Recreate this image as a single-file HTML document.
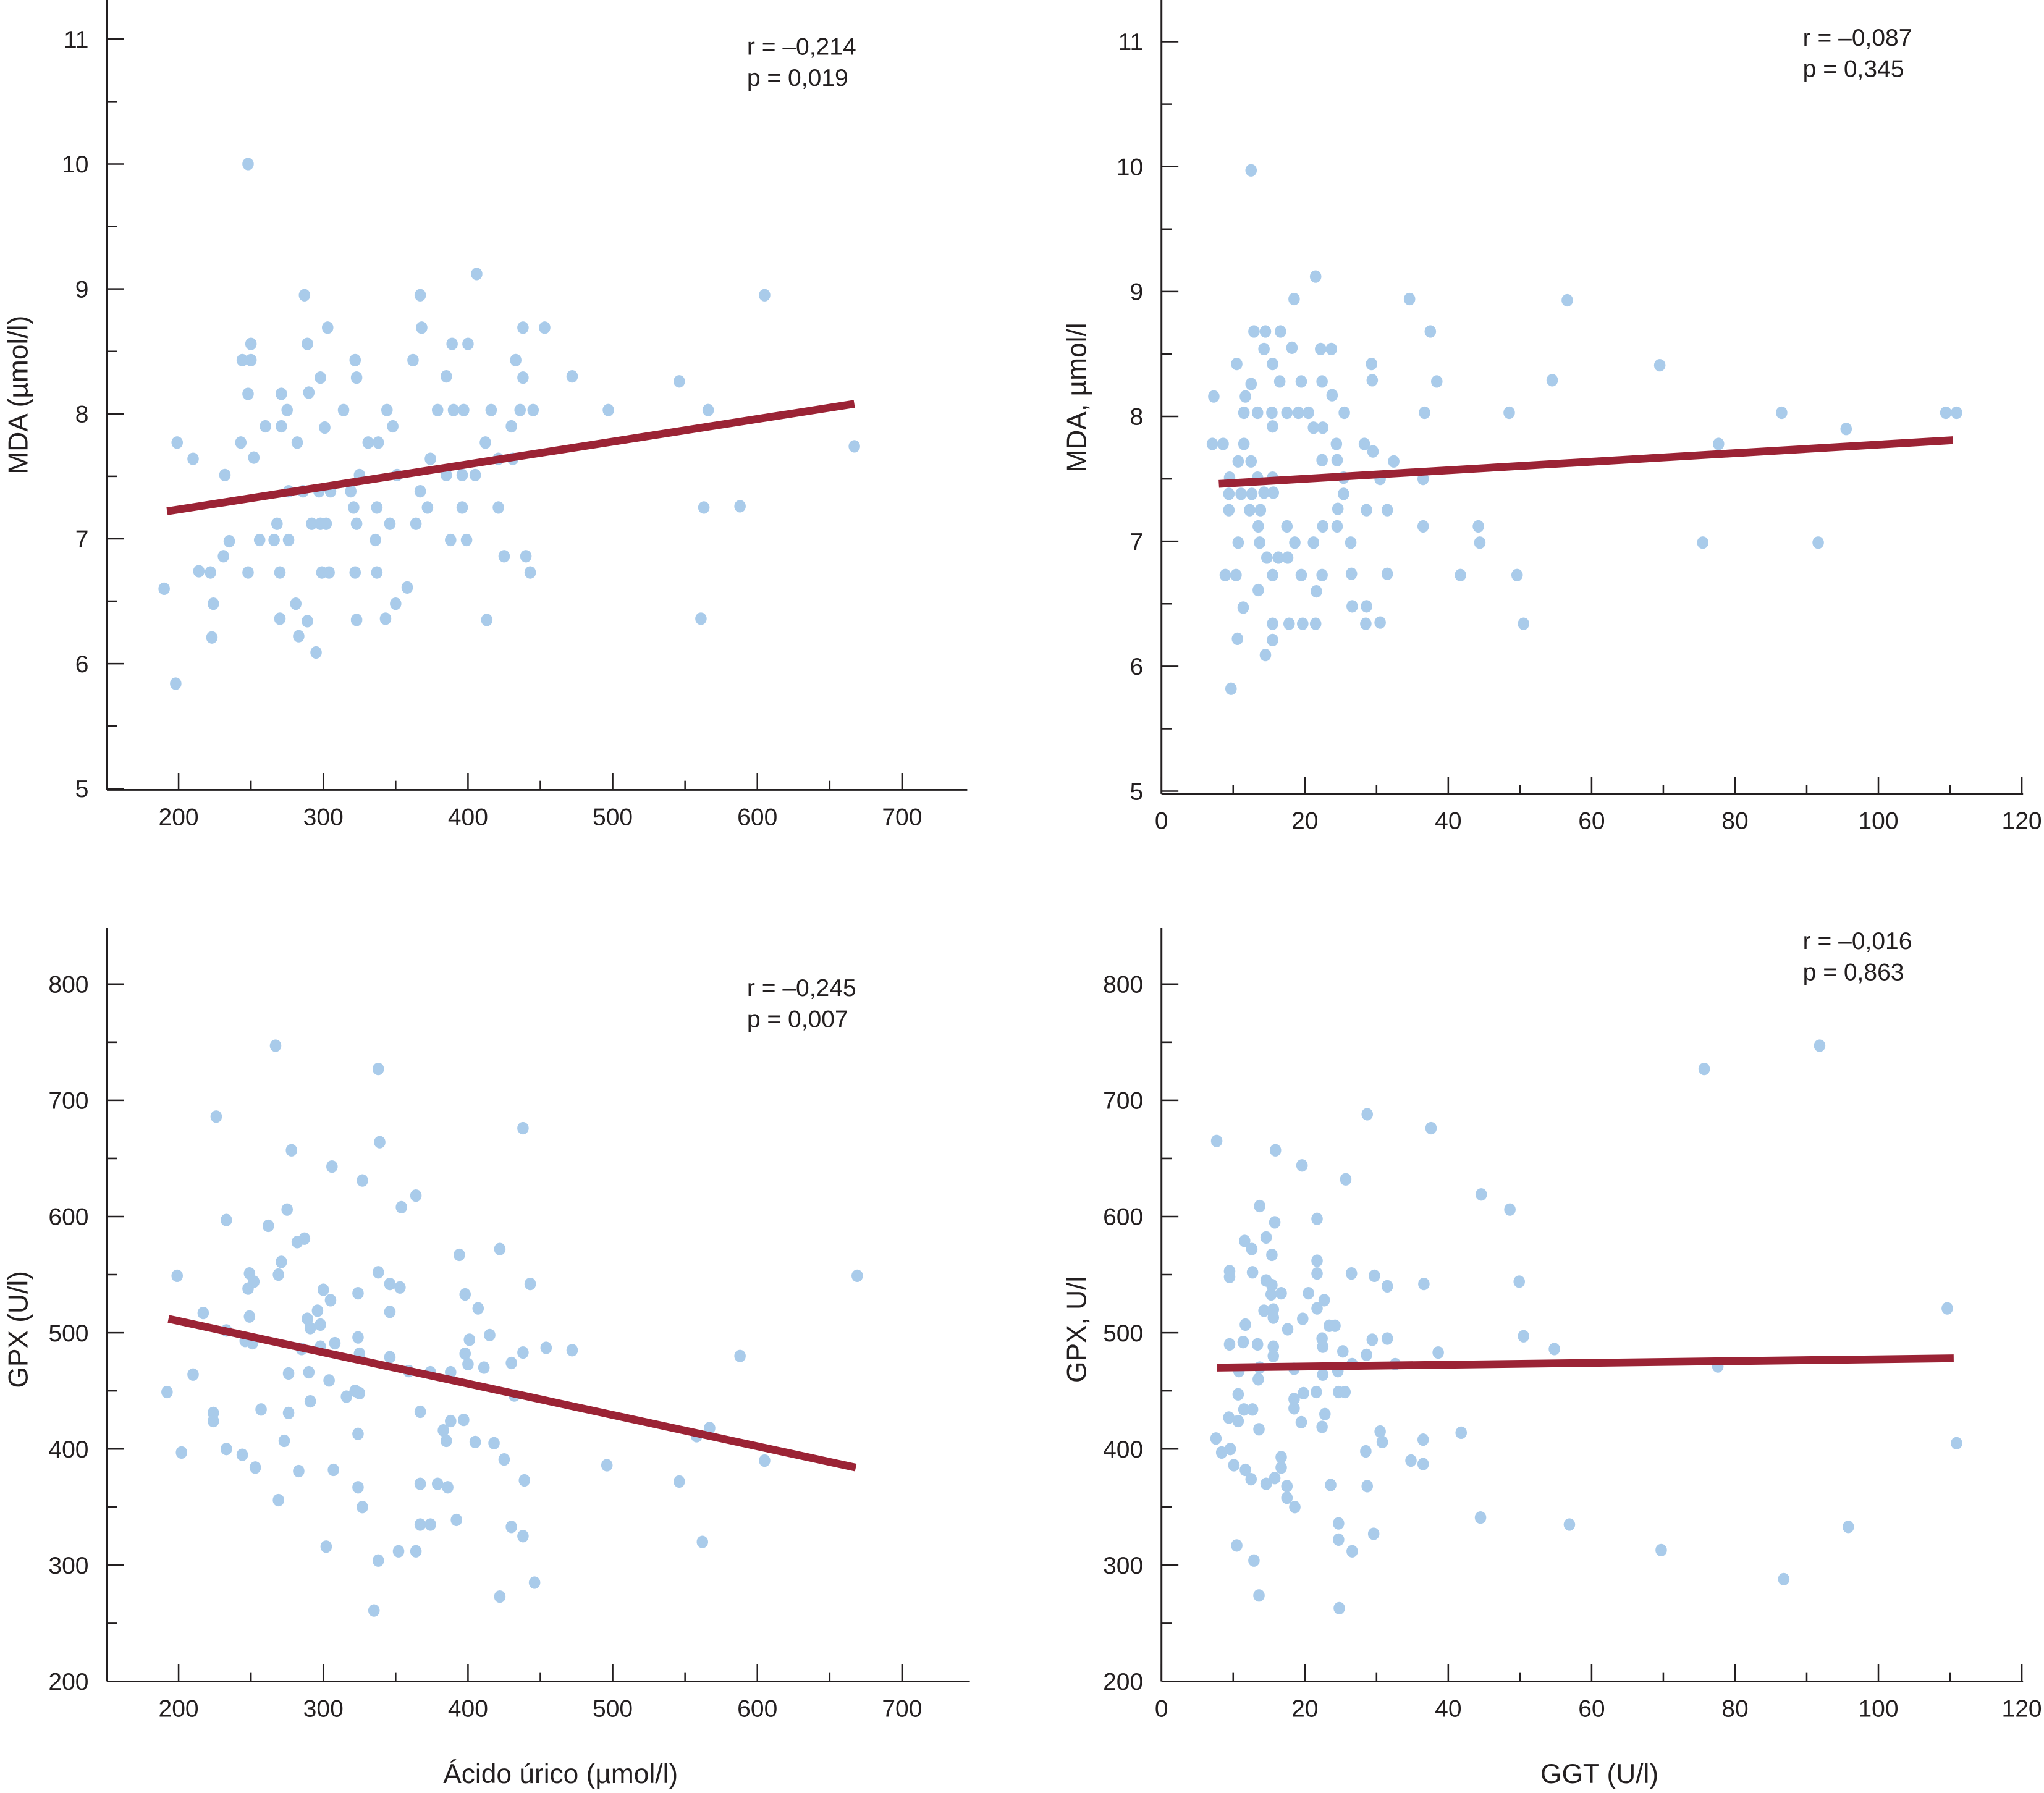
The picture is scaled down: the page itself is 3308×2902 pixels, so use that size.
<!DOCTYPE html>
<html><head><meta charset="utf-8">
<style>
html,body{margin:0;padding:0;background:#fff;}
svg{display:block;}
text{font-family:"Liberation Sans",Arial,sans-serif;fill:#231f20;}
</style></head>
<body>
<svg id="chart" width="3308" height="2902" viewBox="0 0 1568 1375.6" xmlns="http://www.w3.org/2000/svg"></svg>
<script>
// ---- Panel A: MDA vs Acido urico ----
const aX = [190,199,198,210,214,222,224,223,232,231,235,243,244,248,248,248,250,250,252,256,260,266,268,270,270,271,271,275,276,276,281,282,283,286,287,289,289,290,292,295,297,298,298,299,302,301,303,304,305,314,319,321,322,323,322,323,323,325,331,336,337,338,337,343,344,346,348,350,351,358,362,364,367,367,368,372,374,379,385,385,388,389,390,396,396,397,399,400,405,406,412,413,416,421,421,425,430,431,433,436,438,438,440,443,445,453,472,497,546,561,563,566,588,605,667];
const aY = [6.6,7.77,5.84,7.64,6.74,6.73,6.48,6.21,7.51,6.86,6.98,7.77,8.43,10.0,8.16,6.73,8.56,8.43,7.65,6.99,7.9,6.99,7.12,6.73,6.36,7.9,8.16,8.03,6.99,7.38,6.48,7.77,6.22,7.38,8.95,8.56,6.34,8.17,7.12,6.09,7.38,7.12,8.29,6.73,7.12,7.89,8.69,6.73,7.38,8.03,7.38,7.25,8.43,7.12,6.73,8.29,6.35,7.51,7.77,6.99,7.25,7.77,6.73,6.36,8.03,7.12,7.9,6.48,7.51,6.61,8.43,7.12,8.95,7.38,8.69,7.25,7.64,8.03,7.51,8.3,6.99,8.56,8.03,7.51,7.25,8.03,6.99,8.56,7.51,9.12,7.77,6.35,8.03,7.64,7.25,6.86,7.9,7.64,8.43,8.03,8.69,8.29,6.86,6.73,8.03,8.69,8.3,8.03,8.26,6.36,7.25,8.03,7.26,8.95,7.74];
const aFit = [[192,7.22],[667,8.08]];
// ---- Panel B: MDA vs GGT ----
const bX = [7.3,7.1,8.6,9.5,9.4,9.4,8.9,10.4,9.7,10.5,10.7,11.1,10.7,10.6,11.4,11.5,11.5,11.7,12.5,12.5,12.5,12.6,12.3,12.9,13.4,13.4,13.5,13.7,13.8,13.5,14.5,14.3,14.3,14.7,14.5,15.4,15.5,15.5,15.6,15.5,15.5,15.5,15.5,16.3,16.5,16.6,17.5,17.5,17.6,17.8,18.2,18.5,18.6,19.1,19.5,19.5,19.7,20.5,21.2,21.2,21.5,21.5,21.6,22.2,22.4,22.4,22.5,22.5,22.4,23.7,23.8,24.4,24.5,24.6,24.5,25.4,25.4,25.5,26.4,26.5,26.6,28.3,28.6,28.5,28.6,29.3,29.4,29.5,30.5,30.5,31.5,31.5,32.4,34.6,36.5,36.5,36.7,37.5,38.4,41.7,44.2,44.4,48.5,49.6,50.5,54.5,56.6,69.5,75.5,77.7,86.5,91.6,95.5,109.4,110.9];
const bY = [8.16,7.78,7.78,7.51,7.38,7.25,6.73,6.73,5.82,8.42,7.64,7.38,6.99,6.22,6.47,8.03,7.78,8.16,9.97,8.26,7.64,7.38,7.25,8.68,8.03,7.51,7.12,6.99,7.25,6.61,8.68,8.54,7.39,6.87,6.09,8.03,7.92,7.51,7.39,8.42,6.73,6.34,6.21,6.87,8.28,8.68,8.03,7.12,6.87,6.34,8.55,8.94,6.99,8.03,8.28,6.73,6.34,8.03,7.91,6.99,9.12,6.34,6.6,8.54,8.28,7.65,7.91,7.12,6.73,8.54,8.17,7.78,7.65,7.26,7.12,7.51,7.38,8.03,6.99,6.74,6.48,7.78,7.25,6.34,6.48,8.42,8.29,7.72,7.5,6.35,7.25,6.74,7.64,8.94,7.5,7.12,8.03,8.68,8.28,6.73,7.12,6.99,8.03,6.73,6.34,8.29,8.93,8.41,6.99,7.78,8.03,6.99,7.9,8.03,8.03];
const bFit = [[8,7.46],[110.4,7.81]];
// ---- Panel C: GPX vs Acido urico ----
const cX = [192,199,202,210,217,224,224,226,233,233,233,244,246,248,249,249,251,252,253,257,262,267,269,269,271,273,275,276,276,278,282,283,285,287,289,290,291,291,296,298,298,300,302,304,305,306,307,308,316,322,324,324,324,324,325,325,327,327,335,338,339,338,338,346,346,346,352,353,354,359,364,364,367,367,367,374,374,379,383,385,386,388,388,392,394,397,398,398,400,401,405,407,411,415,418,422,422,425,430,430,432,438,438,438,439,443,446,454,472,496,546,558,562,567,588,605,669];
const cY = [449,549,397,464,517,431,424,686,597,502,400,395,493,538,551,514,491,544,384,434,592,747,550,356,561,407,606,431,465,657,578,381,486,581,512,466,504,441,519,507,488,537,316,459,528,643,382,491,445,450,534,496,413,367,448,482,350,631,261,727,664,552,304,542,518,479,312,539,608,467,618,312,432,370,335,466,335,370,416,407,367,466,424,339,567,425,533,482,473,494,406,521,470,498,405,572,273,391,474,333,446,483,676,325,373,542,285,487,485,386,372,411,320,418,480,390,549];
const cFit = [[193,512],[668,384]];
// ---- Panel D: GPX vs GGT ----
const dX = [7.6,7.7,8.4,9.4,9.6,9.5,9.5,9.5,10.1,10.5,10.7,10.7,10.8,11.4,11.5,11.6,11.7,11.7,12.5,12.6,12.7,12.7,12.9,13.4,13.5,13.6,13.7,13.6,13.7,14.3,14.6,14.6,14.6,15.3,15.4,15.4,15.6,15.6,15.6,15.6,15.8,15.8,15.9,16.7,16.7,16.7,17.5,17.5,17.6,18.5,18.5,18.5,18.6,19.5,19.6,19.7,19.8,20.5,21.6,21.7,21.7,21.7,21.7,22.4,22.5,22.5,22.4,22.7,22.8,23.4,23.6,24.2,24.6,24.7,24.7,24.7,24.8,25.3,25.6,25.7,26.5,26.6,26.6,28.5,28.6,28.7,28.7,29.4,29.7,29.6,30.5,30.8,31.5,31.5,32.6,34.8,36.5,36.5,36.6,37.6,38.6,41.8,44.5,44.6,48.6,49.9,50.5,54.8,56.9,69.7,75.7,77.6,86.8,91.8,95.8,109.6,110.9];
const dY = [409,665,397,427,400,553,548,490,386,317,447,424,467,492,434,579,507,382,374,572,552,434,304,490,460,417,609,274,470,519,582,545,370,533,541,567,520,513,488,480,595,375,657,534,393,384,368,358,503,469,443,435,350,423,644,512,448,534,449,562,598,551,521,495,488,464,419,528,430,506,369,506,467,449,336,322,263,484,449,632,551,473,312,398,481,688,368,494,549,327,415,406,540,495,473,390,408,387,542,676,483,414,341,619,606,544,497,486,335,313,727,471,288,747,333,521,405];
const dFit = [[7.7,470],[110.5,478]];

const aTicksX = [200,300,400,500,600,700];
const aTicksY = [5,6,7,8,9,10,11];
const gTicksX = [0,20,40,60,80,100,120];
const gpxTicksY = [200,300,400,500,600,700,800];

const NS = "http://www.w3.org/2000/svg";
const svg = document.getElementById('chart');
function mk(tag, attrs, parent){
  const e = document.createElementNS(NS, tag);
  for (const k in attrs) e.setAttribute(k, attrs[k]);
  (parent||svg).appendChild(e);
  return e;
}
function linScale(d0,d1,r0,r1){ return v => r0 + (v-d0)*(r1-r0)/(d1-d0); }

function panel(cfg){
  const g = mk('g', {});
  
  
  const sx = linScale(cfg.xd[0], cfg.xd[1], cfg.xr[0], cfg.xr[1]);
  const sy = linScale(cfg.yd[0], cfg.yd[1], cfg.yr[0], cfg.yr[1]);
  const ax = cfg.axisX, ay = cfg.axisY;
  // axes
  const yAxis = mk('line', {x1:ax, y1:cfg.yTop, x2:ax, y2:ay, stroke:'#231f20','stroke-width':1.4}, g);
  
  
  const xAxis = mk('line', {x1:ax, y1:ay, x2:cfg.xEnd, y2:ay, stroke:'#231f20','stroke-width':1.4}, g);
  
  
  // y ticks
  cfg.yTicks.forEach((v,i) => {
    const y = sy(v);
    mk('line', {x1:ax, y1:y, x2:ax+13, y2:y, stroke:'#231f20','stroke-width':1.2}, g);
    if (i < cfg.yTicks.length-1){
      const ym = sy((v + cfg.yTicks[i+1])/2);
      mk('line', {x1:ax, y1:ym, x2:ax+8, y2:ym, stroke:'#231f20','stroke-width':1.2}, g);
    }
    const t = mk('text', {x:ax-14, y:y+6.5, 'text-anchor':'end','font-size':18.5}, g);
    t.textContent = v;
    
    
  });
  // x ticks
  cfg.xTicks.forEach((v,i) => {
    const x = sx(v);
    mk('line', {x1:x, y1:ay, x2:x, y2:ay-13, stroke:'#231f20','stroke-width':1.2}, g);
    if (i < cfg.xTicks.length-1){
      const xm = sx((v + cfg.xTicks[i+1])/2);
      mk('line', {x1:xm, y1:ay, x2:xm, y2:ay-7, stroke:'#231f20','stroke-width':1.2}, g);
    }
    const t = mk('text', {x:x, y:ay+27, 'text-anchor':'middle','font-size':18.5}, g);
    t.textContent = v;
    
    
  });
  // points
  cfg.xs.forEach((xv,i) => {
    const c = mk('ellipse', {cx:sx(xv), cy:sy(cfg.ys[i]), rx:4.4, ry:4.8, fill:'#a9cbea'}, g);
    
    
  });
  // fit line
  const fl = mk('line', {x1:sx(cfg.fit[0][0]), y1:sy(cfg.fit[0][1]), x2:sx(cfg.fit[1][0]), y2:sy(cfg.fit[1][1]), stroke:'#9b2335','stroke-width':6}, g);
  
  
  // stats
  const s1 = mk('text', {x:cfg.statX, y:cfg.statY, 'font-size':18.5}, g);
  s1.textContent = cfg.r;
  
  
  const s2 = mk('text', {x:cfg.statX, y:cfg.statY+24, 'font-size':18.5}, g);
  s2.textContent = cfg.p;
  
  
  // y title
  const yt = mk('text', {x:0, y:0, 'text-anchor':'middle','font-size':21, transform:`translate(${cfg.ytX},${cfg.ytY}) rotate(-90)`}, g);
  yt.textContent = cfg.ytitle;
  
  
  if (cfg.xtitle){
    const xt = mk('text', {x:cfg.xtX, y:1368, 'text-anchor':'middle','font-size':21}, g);
    xt.textContent = cfg.xtitle;
    
    
  }
}

panel({name:'panel-mda-uric-acid', xs:aX, ys:aY, fit:aFit, xd:[200,700], xr:[137,692], yd:[5,11], yr:[605,30],
  axisX:82, axisY:606, yTop:0, xEnd:742, xTicks:aTicksX, yTicks:aTicksY,
  r:'r = \u20130,214', p:'p = 0,019', statX:573, statY:42, ytitle:'MDA (\u00b5mol/l)', ytX:21, ytY:303});
panel({name:'panel-mda-ggt', xs:bX, ys:bY, fit:bFit, xd:[0,120], xr:[891,1551], yd:[5,11], yr:[607,32],
  axisX:891, axisY:609, yTop:0, xEnd:1552, xTicks:gTicksX, yTicks:aTicksY,
  r:'r = \u20130,087', p:'p = 0,345', statX:1383, statY:35, ytitle:'MDA, \u00b5mol/l', ytX:833, ytY:305});
panel({name:'panel-gpx-uric-acid', xs:cX, ys:cY, fit:cFit, xd:[200,700], xr:[137,692], yd:[200,800], yr:[1290,755],
  axisX:82, axisY:1290, yTop:712, xEnd:744, xTicks:aTicksX, yTicks:gpxTicksY,
  r:'r = \u20130,245', p:'p = 0,007', statX:573, statY:764, ytitle:'GPX (U/l)', ytX:21, ytY:1020,
  xtitle:'\u00c1cido \u00farico (\u00b5mol/l)', xtX:430});
panel({name:'panel-gpx-ggt', xs:dX, ys:dY, fit:dFit, xd:[0,120], xr:[891,1551], yd:[200,800], yr:[1290,755],
  axisX:891, axisY:1290, yTop:712, xEnd:1552, xTicks:gTicksX, yTicks:gpxTicksY,
  r:'r = \u20130,016', p:'p = 0,863', statX:1383, statY:728, ytitle:'GPX, U/l', ytX:833, ytY:1020,
  xtitle:'GGT (U/l)', xtX:1227});
</script>
</body></html>
